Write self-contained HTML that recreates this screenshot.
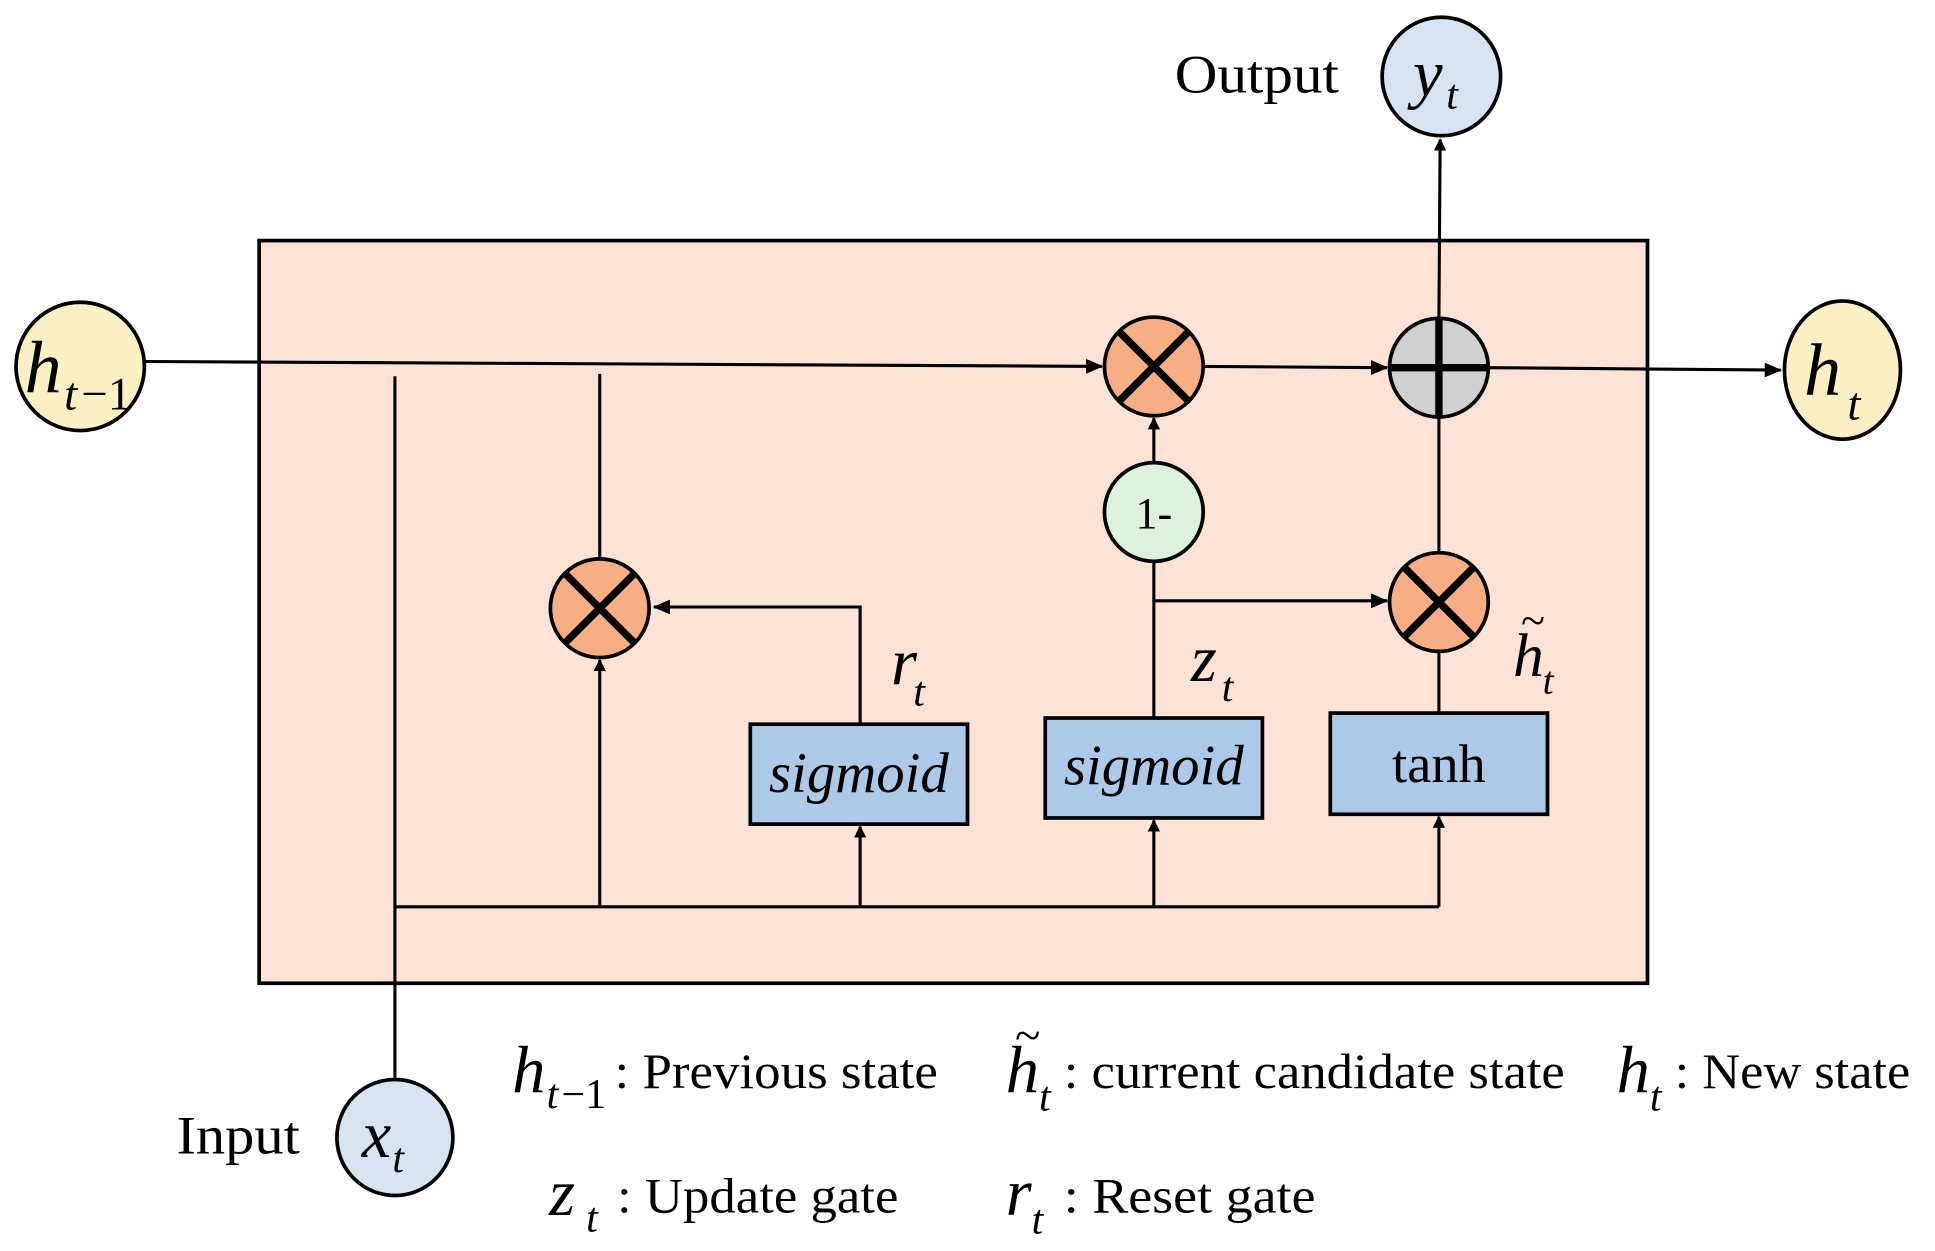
<!DOCTYPE html>
<html><head><meta charset="utf-8"><style>
html,body{margin:0;padding:0;background:#fff;}
svg{display:block;}
text{font-family:"Liberation Serif",serif;fill:#000;}
.it{font-style:italic;}
</style></head><body>
<svg width="1935" height="1251" viewBox="0 0 1568 1014" preserveAspectRatio="none" xmlns="http://www.w3.org/2000/svg">
<defs>
<marker id="a" markerWidth="10" markerHeight="10" refX="9" refY="5" orient="auto" markerUnits="userSpaceOnUse">
<path d="M0,0 L10,5 L0,10 Z" fill="#000"/></marker>
<marker id="b" markerWidth="14" markerHeight="14" refX="13" refY="7" orient="auto" markerUnits="userSpaceOnUse">
<path d="M0,1 L14,7 L0,13 Z" fill="#000"/></marker>
</defs>
<rect x="210" y="195" width="1125" height="602" fill="#fde3d5" stroke="#000" stroke-width="3"/>
<g stroke="#000" stroke-width="2.5" fill="none">
<line x1="118" y1="293" x2="893" y2="297" marker-end="url(#b)"/>
<line x1="975" y1="297" x2="1124" y2="298" marker-end="url(#b)"/>
<line x1="1206" y1="298" x2="1443" y2="300" marker-end="url(#b)"/>
<line x1="1166" y1="258" x2="1167" y2="113" marker-end="url(#a)"/>
<line x1="935" y1="375" x2="935" y2="339" marker-end="url(#a)"/>
<line x1="935" y1="455" x2="935" y2="582"/>
<line x1="935" y1="487" x2="1124" y2="487" marker-end="url(#b)"/>
<line x1="1166" y1="448" x2="1166" y2="338"/>
<line x1="1166" y1="528" x2="1166" y2="578"/>
<polyline points="697,587 697,492 530,492" marker-end="url(#b)"/>
<line x1="486" y1="453" x2="486" y2="303"/>
<line x1="320" y1="875" x2="320" y2="305"/>
<line x1="320" y1="735" x2="1166" y2="735"/>
<line x1="486" y1="735" x2="486" y2="535" marker-end="url(#a)"/>
<line x1="697" y1="735" x2="697" y2="670" marker-end="url(#a)"/>
<line x1="935" y1="735" x2="935" y2="665" marker-end="url(#a)"/>
<line x1="1166" y1="735" x2="1166" y2="662" marker-end="url(#a)"/>
</g>
<g stroke="#000" stroke-width="3">
<rect x="608" y="587" width="176" height="81" fill="#aec8e8"/>
<rect x="847" y="582" width="176" height="81" fill="#aec8e8"/>
<rect x="1078" y="578" width="176" height="82" fill="#aec8e8"/>
<circle cx="935" cy="297" r="40" fill="#f8ae85"/>
<circle cx="486" cy="493" r="40" fill="#f8ae85"/>
<circle cx="1166" cy="488" r="40" fill="#f8ae85"/>
<circle cx="1166" cy="298" r="40" fill="#d0d0d0"/>
<circle cx="935" cy="415" r="40" fill="#dcf2dc"/>
<ellipse cx="65" cy="297" rx="52" ry="52" fill="#fdf0c4"/>
<ellipse cx="1493" cy="300" rx="47" ry="56" fill="#fdf0c4"/>
<circle cx="1168" cy="62" r="48" fill="#d6e4f2"/>
<circle cx="320" cy="922" r="47" fill="#d6e4f2"/>
</g>
<g stroke="#000" stroke-width="6">
<path d="M907,269 L963,325 M963,269 L907,325"/>
<path d="M458,465 L514,521 M514,465 L458,521"/>
<path d="M1138,460 L1194,516 M1194,460 L1138,516"/>
<path d="M1126,298 L1206,298 M1166,258 L1166,338"/>
</g>
<text x="935" y="428" font-size="36" text-anchor="middle">1-</text>
<text x="696" y="642" font-size="46" class="it" text-anchor="middle">sigmoid</text>
<text x="935" y="636" font-size="46" class="it" text-anchor="middle">sigmoid</text>
<text x="1166" y="634" font-size="44" text-anchor="middle">tanh</text>
<text x="20" y="318" font-size="60" class="it">h</text><text x="52" y="332" font-size="38" class="it">t</text><text x="66" y="332" font-size="38">−1</text>
<text x="1462" y="320" font-size="60" class="it">h</text><text x="1497" y="340" font-size="38" class="it">t</text>
<text x="1145" y="78" font-size="54" class="it">y</text><text x="1172" y="88" font-size="34" class="it">t</text>
<text x="293" y="938" font-size="54" class="it">x</text><text x="318" y="950" font-size="34" class="it">t</text>
<text x="952" y="75" font-size="44" textLength="133" lengthAdjust="spacingAndGlyphs">Output</text>
<text x="143" y="935" font-size="44" textLength="100" lengthAdjust="spacingAndGlyphs">Input</text>
<text x="722" y="555" font-size="54" class="it">r</text><text x="740" y="572" font-size="34" class="it">t</text>
<text x="965" y="552" font-size="54" class="it">z</text><text x="990" y="568" font-size="34" class="it">t</text>
<text x="1226" y="548" font-size="50" class="it">h</text><text x="1250" y="562" font-size="32" class="it">t</text><text x="1232" y="515" font-size="36" class="it">~</text>
<text x="415" y="885" font-size="54" class="it">h</text><text x="443" y="898" font-size="34" class="it">t</text><text x="455" y="898" font-size="34">−1</text>
<text x="498" y="882" font-size="40" textLength="262" lengthAdjust="spacingAndGlyphs">: Previous state</text>
<text x="815" y="885" font-size="54" class="it">h</text><text x="842" y="900" font-size="34" class="it">t</text><text x="822" y="852" font-size="38" class="it">~</text>
<text x="862" y="882" font-size="40" textLength="406" lengthAdjust="spacingAndGlyphs">: current candidate state</text>
<text x="1310" y="885" font-size="54" class="it">h</text><text x="1337" y="900" font-size="34" class="it">t</text>
<text x="1357" y="882" font-size="40" textLength="191" lengthAdjust="spacingAndGlyphs">: New state</text>
<text x="445" y="985" font-size="54" class="it">z</text><text x="475" y="998" font-size="34" class="it">t</text>
<text x="500" y="983" font-size="40" textLength="228" lengthAdjust="spacingAndGlyphs">: Update gate</text>
<text x="815" y="985" font-size="54" class="it">r</text><text x="836" y="1000" font-size="34" class="it">t</text>
<text x="862" y="983" font-size="40" textLength="204" lengthAdjust="spacingAndGlyphs">: Reset gate</text>
</svg>
</body></html>
